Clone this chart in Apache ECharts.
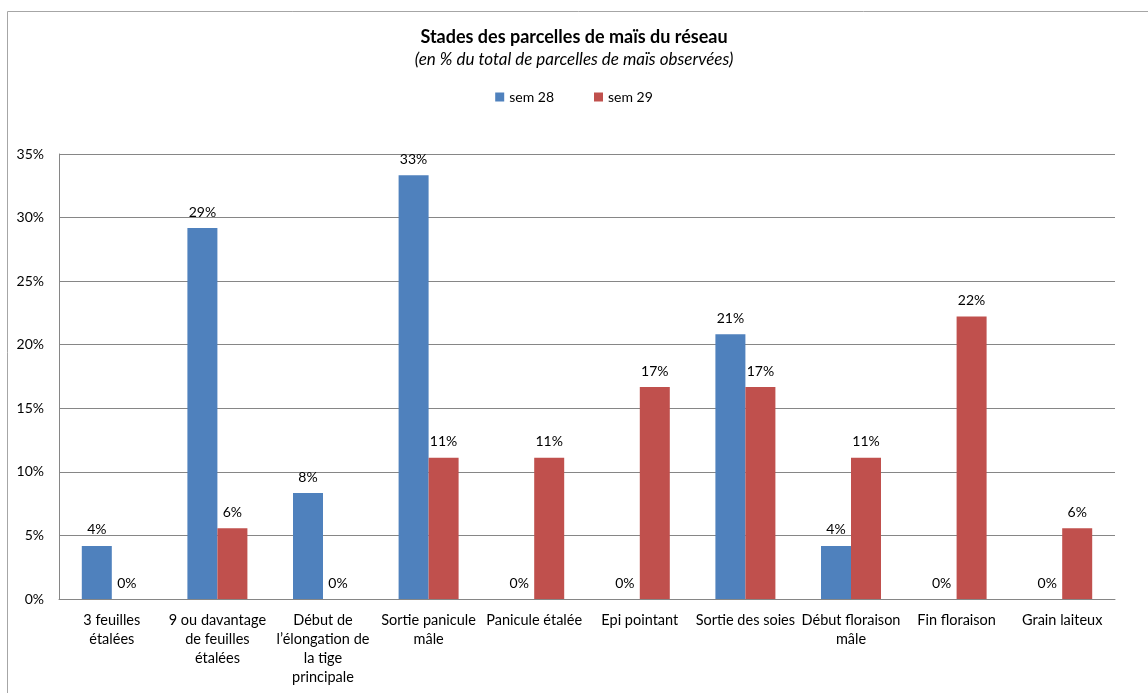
<!DOCTYPE html>
<html><head><meta charset="utf-8">
<script src="https://cdn.jsdelivr.net/npm/echarts@6/dist/echarts.min.js"></script>
<style>html,body{margin:0;padding:0;background:#fff}#c{width:1148px;height:693px}</style>
</head><body><div id="c"></div>
<script>
const categories = ["3 feuilles\nétalées", "9 ou davantage\nde feuilles\nétalées", "Début de\nl’élongation de\nla tige\nprincipale", "Sortie panicule\nmâle", "Panicule étalée", "Epi pointant", "Sortie des soies", "Début floraison\nmâle", "Fin floraison", "Grain laiteux"];
const sem28 = [4.17, 29.17, 8.33, 33.33, 0, 0, 20.83, 4.17, 0, 0];
const sem29 = [0, 5.56, 0, 11.11, 11.11, 16.67, 16.67, 11.11, 22.22, 5.56];
const seriesNames = ["sem 28", "sem 29"];
const yMin = 0, yMax = 35, yStep = 5;

const FONT = "Lato, 'Open Sans', sans-serif";
const chart = echarts.init(document.getElementById('c'));
const lbl = {show:true, position:'top', distance:9, color:'#000', fontFamily:FONT, fontSize:14,
  formatter:p=>Math.round(p.value)+'%'};
chart.setOption({
  animation:false,
  graphic:[{type:'rect', shape:{x:7.5,y:11.5,width:1300,height:800}, style:{fill:'none', stroke:'#a6a6a6', lineWidth:1}}],
  title:{text:'Stades des parcelles de maïs du réseau', subtext:'(en % du total de parcelles de maïs observées)',
    left:'center', top:23, itemGap:5,
    textStyle:{fontFamily:FONT, fontSize:18, fontWeight:'bold', color:'#000'},
    subtextStyle:{fontFamily:FONT, fontSize:17, fontStyle:'italic', color:'#000'}},
  legend:{top:85, left:'center', itemWidth:9, itemHeight:9, itemGap:40, icon:'rect',
    textStyle:{fontFamily:FONT, fontSize:14, color:'#000'}},
  grid:{left:59, right:33, top:154, bottom:94},
  xAxis:{type:'category', data:categories,
    axisLine:{lineStyle:{color:'#868686'}}, axisTick:{show:false},
    axisLabel:{interval:0, margin:12, color:'#000', fontFamily:FONT, fontSize:14.5, lineHeight:19}},
  yAxis:{type:'value', min:yMin, max:yMax, interval:yStep,
    axisLine:{show:true, lineStyle:{color:'#868686'}}, axisTick:{show:false},
    splitLine:{lineStyle:{color:'#868686'}},
    axisLabel:{formatter:v=>v+'%', margin:15, color:'#000', fontFamily:FONT, fontSize:14}},
  series:[
    {name:seriesNames[0], type:'bar', data:sem28, barWidth:30, barGap:'0%', itemStyle:{color:'#4F81BD'}, label:lbl},
    {name:seriesNames[1], type:'bar', data:sem29, barWidth:30, barGap:'0%', itemStyle:{color:'#C0504D'}, label:lbl}
  ]
});
</script></body></html>
